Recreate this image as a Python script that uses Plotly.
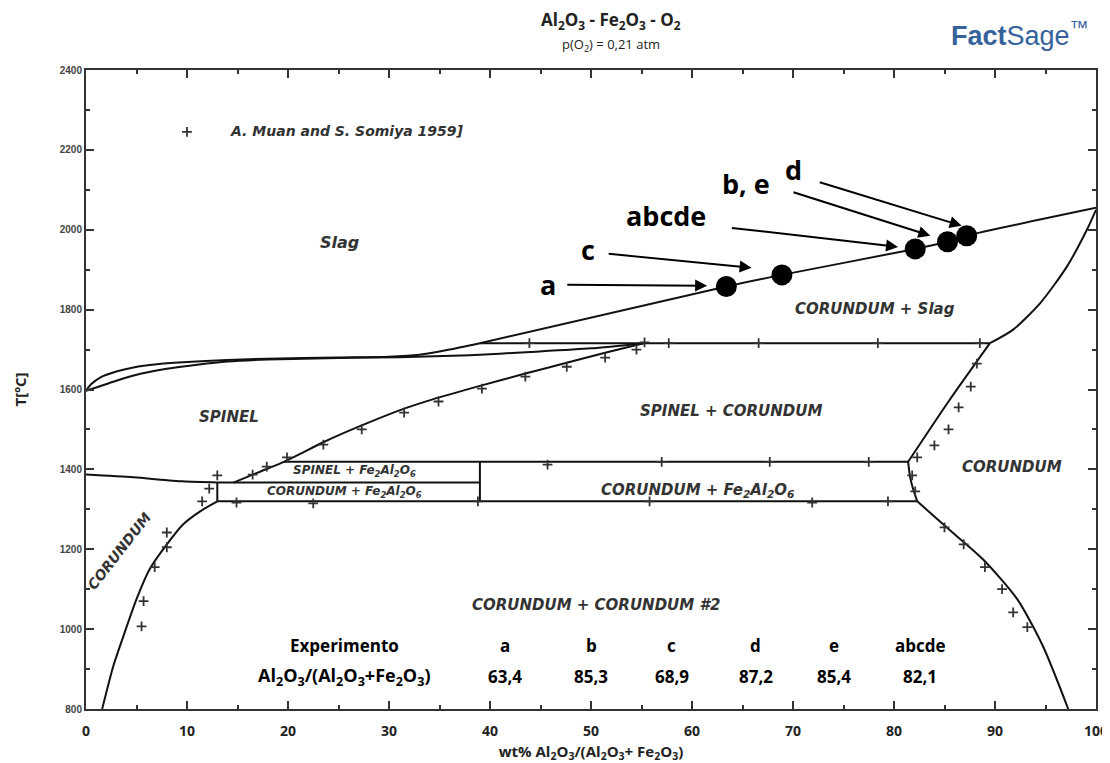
import plotly.graph_objects as go

# ---------------- data ----------------
# phase boundaries: x = wt% Al2O3/(Al2O3+Fe2O3), T in degC
spinel_liq_x = [0, 0.5, 1.4, 3, 4.7, 7, 9.6, 14, 18, 25, 30, 33, 36, 39]
spinel_liq_T = [1597, 1613, 1630, 1645, 1655, 1663, 1668, 1674, 1677, 1680, 1682, 1687, 1700, 1716]

spinel_sol_x = [0, 1, 3, 5.5, 8, 11, 14, 18, 25, 31, 38, 44, 50, 55.2]
spinel_sol_T = [1597, 1605, 1622, 1640, 1652, 1662, 1670, 1675, 1679, 1681, 1686, 1694, 1703, 1716]

corundum_liq_x = [39, 63.4, 68.9, 82.1, 85.3, 87.2, 100]
corundum_liq_T = [1716, 1858, 1887, 1952, 1970, 1985, 2055]

corundum_sol_x = [89.5, 91.8, 94.5, 97.1, 99.1, 100]
corundum_sol_T = [1716, 1750, 1817, 1907, 2000, 2050]

peritectic_x = [39, 89.5]
peritectic_T = [1716, 1716]

spinel_solvus_x = [55.2, 51.4, 47.6, 43.5, 39, 34.4, 31.5, 27.3, 23.5, 20.9, 19.6, 17, 14.6]
spinel_solvus_T = [1716, 1692, 1667, 1640, 1609, 1576, 1552, 1510, 1468, 1435, 1419, 1392, 1367]

cor_spinel_x = [81.4, 85.4, 89.5]
cor_spinel_T = [1419, 1570, 1716]

line1419_x = [19.6, 81.4]
line1419_T = [1419, 1419]
line1367_x = [13, 39]
line1367_T = [1367, 1367]
line1320_x = [13, 82.3]
line1320_T = [1320, 1320]
vert39_x = [39, 39]
vert39_T = [1320, 1419]
vert13_x = [13, 13]
vert13_T = [1320, 1367]

fe_side_x = [0, 4.7, 9.6, 13]
fe_side_T = [1387, 1380, 1370, 1367]

right_short_x = [82.3, 81.9, 81.6, 81.4]
right_short_T = [1320, 1350, 1380, 1419]

cor_solvus_left_x = [13, 11.3, 9.6, 8.0, 6.3, 5.0, 3.7, 2.7, 1.6]
cor_solvus_left_T = [1320, 1295, 1262, 1212, 1150, 1075, 982, 907, 800]

cor_solvus_right_x = [82.3, 85.2, 88.8, 92.2, 94.75, 97.25]
cor_solvus_right_T = [1320, 1255, 1175, 1075, 957, 800]

# experimental points (A. Muan and S. Somiya 1959)
muan_x = [5.5, 5.7, 6.8, 8.0, 8.0, 11.5, 12.2, 13.0, 14.9, 22.5, 38.8, 55.8, 71.9, 79.4,
          16.5, 17.9, 19.9, 23.5, 27.3, 31.5, 34.9, 39.2, 43.5, 47.6, 51.4, 54.5,
          45.7, 57.0, 67.7, 77.5,
          43.9, 55.3, 57.7, 66.6, 78.4, 88.5,
          88.2, 87.6, 86.4, 85.4, 84.0, 82.3, 81.8, 82.1,
          85.0, 86.9, 89.0, 90.7, 91.8, 93.2]
muan_T = [1007, 1070, 1155, 1205, 1242, 1320, 1352, 1385, 1317, 1315, 1320, 1320, 1317, 1320,
          1387, 1407, 1430, 1462, 1500, 1542, 1570, 1602, 1632, 1657, 1680, 1700,
          1412, 1419, 1419, 1419,
          1716, 1718, 1716, 1716, 1716, 1716,
          1665, 1607, 1555, 1500, 1460, 1430, 1385, 1345,
          1255, 1212, 1155, 1100, 1042, 1005]
legend_marker_x = [10]
legend_marker_T = [2245]

# experiments of this work
exp_labels = ["a", "b", "c", "d", "e", "abcde"]
exp_ratio = ["63,4", "85,3", "68,9", "87,2", "85,4", "82,1"]
dot_x = [63.4, 68.9, 82.1, 85.3, 87.2]
dot_T = [1858, 1887, 1952, 1970, 1985]

# ---------------- figure ----------------
fig = go.Figure()
LINE = dict(color="#111111", width=2)

boundaries = [
    (spinel_liq_x, spinel_liq_T), (spinel_sol_x, spinel_sol_T),
    (corundum_liq_x, corundum_liq_T), (corundum_sol_x, corundum_sol_T),
    (peritectic_x, peritectic_T), (spinel_solvus_x, spinel_solvus_T),
    (cor_spinel_x, cor_spinel_T), (line1419_x, line1419_T), (line1367_x, line1367_T),
    (line1320_x, line1320_T), (vert39_x, vert39_T), (vert13_x, vert13_T),
    (fe_side_x, fe_side_T), (right_short_x, right_short_T),
    (cor_solvus_left_x, cor_solvus_left_T), (cor_solvus_right_x, cor_solvus_right_T),
]
for bx, by in boundaries:
    fig.add_trace(go.Scatter(x=bx, y=by, mode="lines", line=dict(**LINE, shape="spline", smoothing=0.7),
                             hoverinfo="skip", showlegend=False))

fig.add_trace(go.Scatter(x=muan_x + legend_marker_x, y=muan_T + legend_marker_T, mode="markers",
                         marker=dict(symbol="cross-thin", size=7,
                                     line=dict(color="#333333", width=1.8)),
                         showlegend=False))

fig.add_trace(go.Scatter(x=dot_x, y=dot_T, mode="markers",
                         marker=dict(color="black", size=21), showlegend=False))

REGFONT = "DejaVu Sans, Arial"
REGCOL = "#333333"
def region(x, y, text, size=17, angle=0):
    fig.add_annotation(x=x, y=y, xref="x", yref="y", text="<b><i>" + text + "</i></b>",
                       showarrow=False, textangle=angle,
                       font=dict(family=REGFONT, size=size, color=REGCOL))

fig.add_annotation(x=14.1, y=2247, xref="x", yref="y", xanchor="left",
                   text="<b><i>A. Muan and S. Somiya 1959]</i></b>", showarrow=False,
                   font=dict(family=REGFONT, size=14, color=REGCOL))
region(25.1, 1967, "Slag", 16)
region(78.1, 1802, "CORUNDUM + Slag", 15)
region(14.2, 1530, "SPINEL", 15)
region(63.9, 1545, "SPINEL + CORUNDUM", 15)
region(91.7, 1405, "CORUNDUM", 15)
region(26.6, 1395, "SPINEL + Fe<sub>2</sub>Al<sub>2</sub>O<sub>6</sub>", 12)
region(25.6, 1343, "CORUNDUM + Fe<sub>2</sub>Al<sub>2</sub>O<sub>6</sub>", 12)
region(60.5, 1348, "CORUNDUM + Fe<sub>2</sub>Al<sub>2</sub>O<sub>6</sub>", 15)
region(3.3, 1195, "CORUNDUM", 14, -52)
region(50.5, 1060, "CORUNDUM + CORUNDUM #2", 15)

# experiment labels and arrows
BOLD = dict(family="Open Sans, Arial", color="black")
lab = [("a", 45.7, 1863, 47.5, 1862, 61.5, 1860),
       ("c", 49.7, 1950, 51.6, 1940, 65.9, 1905),
       ("abcde", 57.4, 2035, 63.8, 2005, 80.4, 1957),
       ("b, e", 65.3, 2117, 69.9, 2095, 83.6, 1985),
       ("d", 70.0, 2150, 72.5, 2120, 86.7, 2010)]
for t, tx, ty, axx, ayy, hx, hy in lab:
    fig.add_annotation(x=tx, y=ty, xref="x", yref="y", text="<b>" + t + "</b>",
                       showarrow=False, font=dict(size=27, **BOLD))
    fig.add_annotation(x=hx, y=hy, ax=axx, ay=ayy, xref="x", yref="y", axref="x", ayref="y",
                       text="", showarrow=True, arrowhead=2, arrowsize=1.2, arrowwidth=2,
                       arrowcolor="black")

# table
fig.add_annotation(x=25.6, y=960, xref="x", yref="y", text="<b>Experimento</b>",
                   showarrow=False, font=dict(size=17, **BOLD))
fig.add_annotation(x=25.6, y=882, xref="x", yref="y",
                   text="<b>Al<sub>2</sub>O<sub>3</sub>/(Al<sub>2</sub>O<sub>3</sub>+Fe<sub>2</sub>O<sub>3</sub>)</b>",
                   showarrow=False, font=dict(size=18, **BOLD))
col_x = [41.5, 50, 58, 66.3, 74.1, 82.6]
for cx, l, v in zip(col_x, exp_labels, exp_ratio):
    fig.add_annotation(x=cx, y=960, xref="x", yref="y", text="<b>" + l + "</b>",
                       showarrow=False, font=dict(size=17, **BOLD))
    fig.add_annotation(x=cx, y=882, xref="x", yref="y", text="<b>" + v + "</b>",
                       showarrow=False, font=dict(size=17, **BOLD))

# titles
fig.add_annotation(x=0.52, y=1.0, xref="paper", yref="paper", yshift=50, yanchor="middle",
                   text="<b>Al<sub>2</sub>O<sub>3</sub> - Fe<sub>2</sub>O<sub>3</sub> - O<sub>2</sub></b>",
                   showarrow=False, font=dict(size=17, family="Open Sans, Arial", color="#222"))
fig.add_annotation(x=0.52, y=1.0, xref="paper", yref="paper", yshift=25, yanchor="middle",
                   text="p(O<sub>2</sub>) = 0,21 atm", showarrow=False,
                   font=dict(size=13, family="Open Sans, Arial", color="#222"))
fig.add_annotation(x=1.0, y=1.0, xref="paper", yref="paper", xanchor="right", yanchor="middle",
                   yshift=36, xshift=-6,
                   text="<b>Fact</b>Sage<sup>™</sup>", showarrow=False,
                   font=dict(size=27, family="Liberation Sans Narrow, Arial Narrow, Arial", color="#36629c"))

fig.update_xaxes(range=[0, 100], dtick=10, tick0=0, ticks="inside", ticklen=8, tickwidth=2,
                 tickcolor="#333", showline=True, linewidth=2, linecolor="#333", mirror="ticks",
                 showgrid=False, zeroline=False, automargin=False, ticklabelstandoff=8,
                 minor=dict(dtick=5, ticks="inside", ticklen=4, tickwidth=1.5, tickcolor="#333"),
                 tickfont=dict(family="Open Sans, Arial", size=14, color="#222", weight="bold"),
                 title=dict(text="<b>wt% Al<sub>2</sub>O<sub>3</sub>/(Al<sub>2</sub>O<sub>3</sub>+ Fe<sub>2</sub>O<sub>3</sub>)</b>",
                            font=dict(family="Open Sans, Arial", size=15, color="#222"), standoff=16))
fig.update_yaxes(range=[800, 2400], dtick=200, tick0=800, ticks="inside", ticklen=8, tickwidth=2,
                 tickcolor="#333", showline=True, linewidth=2, linecolor="#333", mirror="ticks",
                 showgrid=False, zeroline=False, automargin=False,
                 minor=dict(dtick=100, ticks="inside", ticklen=4, tickwidth=1.5, tickcolor="#333"),
                 tickfont=dict(family="Liberation Sans, Arial", size=10, color="#444", weight="bold"),
                 title=dict(text="<b>T[ºC]</b>",
                            font=dict(family="Open Sans, Arial", size=15, color="#222"), standoff=30))

# the page body adds an 8 px offset, so the figure is 8 px smaller and margins shifted
fig.update_layout(width=1102, height=755, margin=dict(l=78, r=14, t=62, b=54),
                  plot_bgcolor="white", paper_bgcolor="white", showlegend=False)

fig.write_html("out.html")
